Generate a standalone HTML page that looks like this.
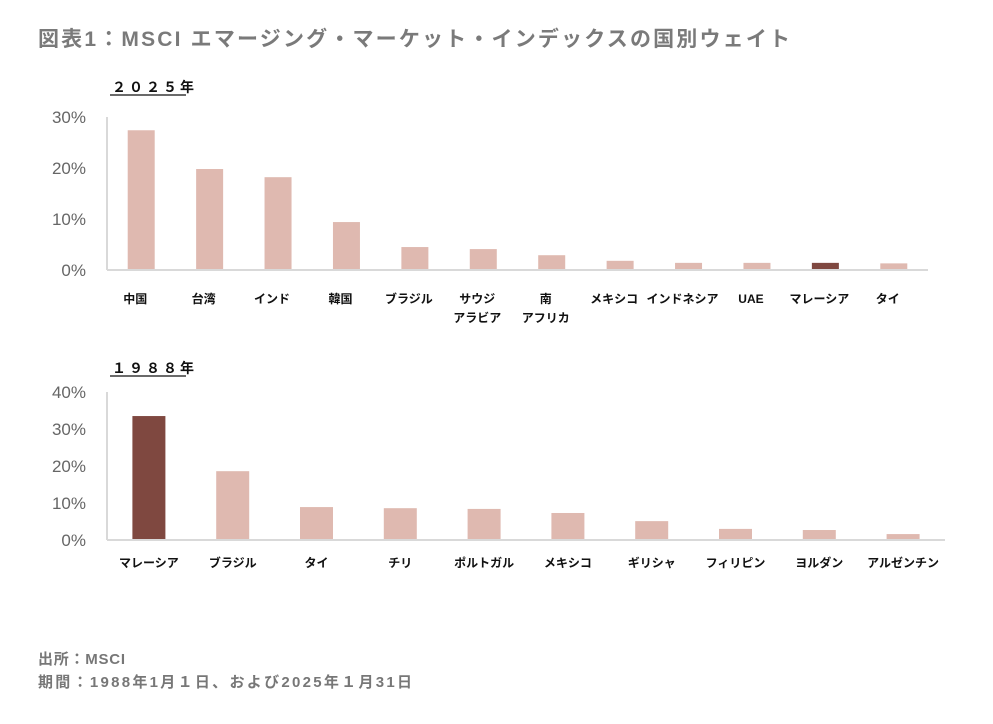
<!DOCTYPE html>
<html><head><meta charset="utf-8">
<style>
body{margin:0;background:#fff;width:993px;height:724px;overflow:hidden;font-family:"Liberation Sans","Noto Sans CJK JP",sans-serif;}
svg{position:absolute;left:0;top:0}
</style></head>
<body>
<svg id="c" width="993" height="724">
<text x="38" y="46" font-size="21" fill="#7a7a7a" font-weight="bold" textLength="752">図表1：MSCI エマージング・マーケット・インデックスの国別ウェイト</text>
<text x="112" y="92" font-size="14" font-weight="bold" fill="#111" letter-spacing="3">２０２５年</text>
<line x1="110" y1="95" x2="186" y2="95" stroke="#111" stroke-width="1.2"/>
<text x="112" y="373" font-size="14" font-weight="bold" fill="#111" letter-spacing="3">１９８８年</text>
<line x1="110" y1="376" x2="186" y2="376" stroke="#111" stroke-width="1.2"/>
<text x="38" y="664" font-size="15" fill="#777" font-weight="bold" textLength="87">出所：MSCI</text>
<text x="38" y="687" font-size="15" fill="#777" font-weight="bold" textLength="374">期間：1988年1月１日、および2025年１月31日</text>
<g id="g1"></g><g id="g2"></g>
</svg>
<script>
const cats2025 = ["中国","台湾","インド","韓国","ブラジル","サウジ|アラビア","南|アフリカ","メキシコ","インドネシア","UAE","マレーシア","タイ"];
const vals2025 = [27.4,19.8,18.2,9.4,4.5,4.1,2.9,1.8,1.4,1.4,1.4,1.3];
const ticks2025 = [0,10,20,30];
const hi2025 = "マレーシア";
const cats1988 = ["マレーシア","ブラジル","タイ","チリ","ポルトガル","メキシコ","ギリシャ","フィリピン","ヨルダン","アルゼンチン"];
const vals1988 = [33.5,18.6,8.9,8.6,8.4,7.3,5.1,3.0,2.7,1.6];
const ticks1988 = [0,10,20,30,40];
const hi1988 = "マレーシア";
const NS="http://www.w3.org/2000/svg";
function mk(g,tag,attrs){const e=document.createElementNS(NS,tag);for(const k in attrs)e.setAttribute(k,attrs[k]);g.appendChild(e);return e;}
function draw(g,cats,vals,ticks,hi,cfg){
  const y=v=>cfg.y0-(v/ticks[ticks.length-1])*(cfg.y0-cfg.yTop);
  const step=(cfg.x1-cfg.x0)/cats.length;
  const x=i=>cfg.x0+step*(i+0.5);
  const ax=mk(g,"line",{x1:cfg.x0,y1:cfg.yTop,x2:cfg.x0,y2:cfg.y0,stroke:"#d9d9d9","stroke-width":2});
  
  
  ticks.forEach(t=>{
    const tl=mk(g,"text",{x:86,y:y(t)+6,"font-size":17,fill:"#666","text-anchor":"end"});
    tl.textContent=t+"%";
    
    
  });
  cats.forEach((c,i)=>{
    const r=mk(g,"rect",{x:x(i)-cfg.bw/2,y:y(vals[i]),width:cfg.bw,height:cfg.y0-y(vals[i]),fill:c===hi?"#7f4840":"#dfb9b0"});
    
    
    c.split("|").forEach((p,j)=>{
      const t=mk(g,"text",{x:x(i)+(cfg.lx||0),y:cfg.ly+j*19,"font-size":12,"font-weight":"bold",fill:"#111","text-anchor":"middle"});
      t.textContent=p;
      
      
    });
  });
  const bl=mk(g,"line",{x1:cfg.x0,y1:cfg.y0,x2:cfg.x1,y2:cfg.y0,stroke:"#d9d9d9","stroke-width":2});
  
  
}
draw(document.getElementById("g1"),cats2025,vals2025,ticks2025,hi2025,{x0:107,x1:928,y0:270,yTop:117,bw:27,ly:303,lx:-6});
draw(document.getElementById("g2"),cats1988,vals1988,ticks1988,hi1988,{x0:107,x1:945,y0:540,yTop:392,bw:33,ly:567,lx:0});
</script>
</body></html>
